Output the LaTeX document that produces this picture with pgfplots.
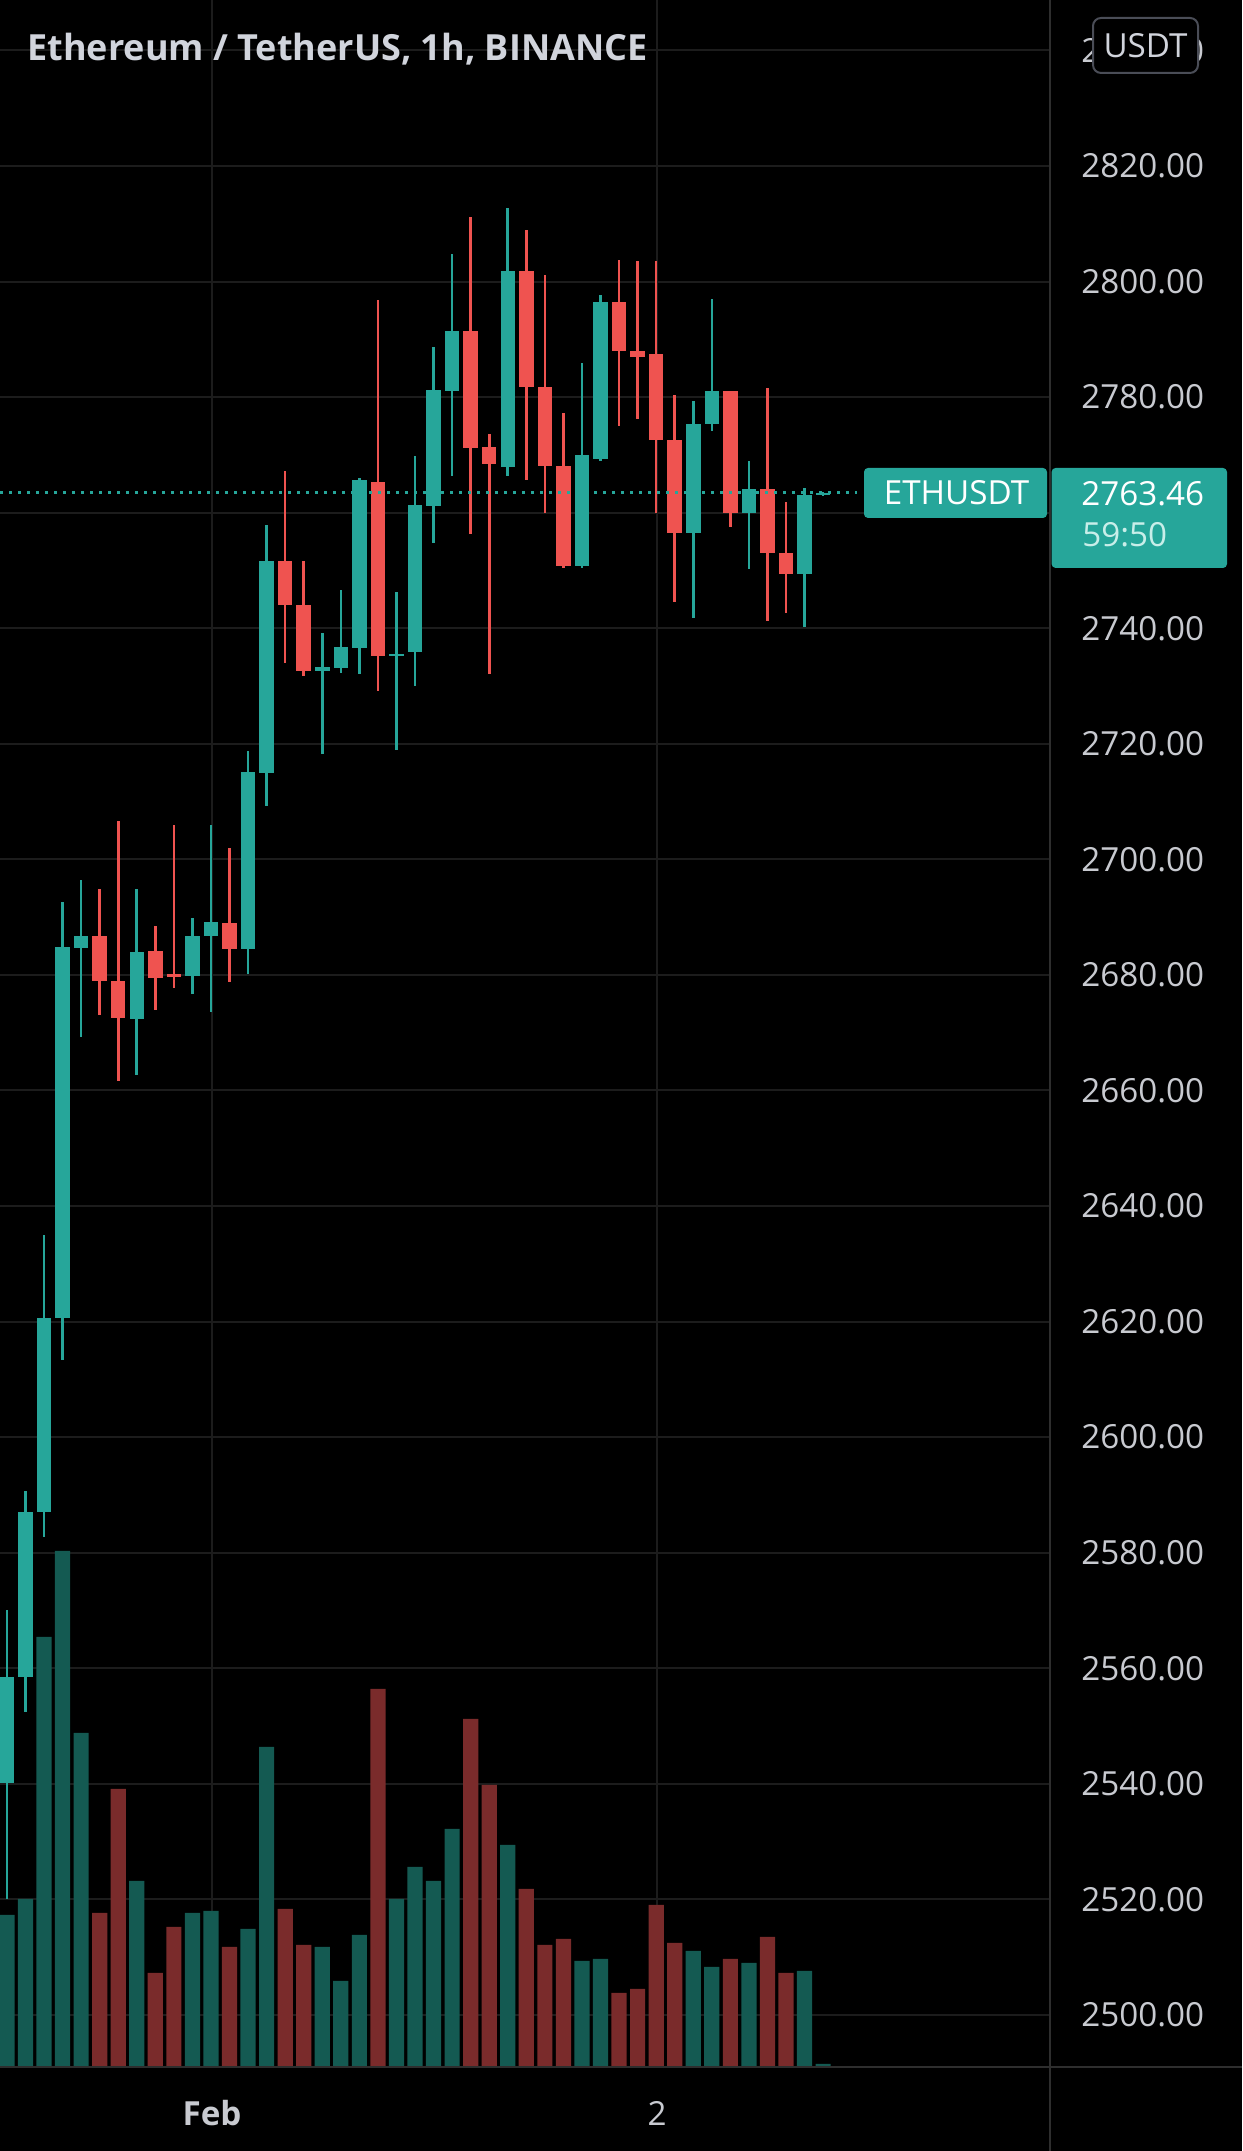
\documentclass[border=0pt]{standalone}
\usepackage{pgfplots}
\pgfplotsset{compat=1.18}
\usepackage{pgfplotstable}
\usepackage{fontspec}
\setmainfont{Open Sans}

\definecolor{up}{HTML}{26A69A}
\definecolor{down}{HTML}{EF5350}
\definecolor{volup}{HTML}{145A52}
\definecolor{voldown}{HTML}{7A2B2B}
\definecolor{gridc}{HTML}{1C1C1C}
\definecolor{axisc}{HTML}{2E2E2E}
\definecolor{txt}{HTML}{D1D4DC}
\definecolor{lbl}{HTML}{C8CAD0}
\definecolor{timer}{HTML}{C8EEE9}
\definecolor{boxline}{HTML}{4A4D57}

% ETHUSDT 1h candles: index, open, high, low, close, volume (arbitrary units)
\pgfplotstableread{
i o h l c v
0 2540.1 2570.1 2520.1 2558.5 7.6
1 2558.5 2590.6 2552.5 2587.1 8.4
2 2587.1 2635.0 2582.8 2620.7 21.5
3 2620.7 2692.7 2613.4 2684.9 25.8
4 2684.6 2696.4 2669.2 2686.8 16.7
5 2686.8 2694.8 2673.1 2679.0 7.7
6 2679.0 2706.6 2661.7 2672.5 13.9
7 2672.4 2694.8 2662.6 2683.9 9.3
8 2684.1 2688.5 2674.0 2679.5 4.7
9 2680.2 2705.9 2677.7 2679.7 7.0
10 2679.8 2689.9 2676.7 2686.8 7.7
11 2686.7 2705.9 2673.6 2689.1 7.8
12 2688.9 2701.9 2678.8 2684.5 6.0
13 2684.5 2718.8 2680.2 2715.1 6.9
14 2714.9 2757.8 2709.2 2751.6 16.0
15 2751.6 2767.2 2734.0 2744.0 7.9
16 2744.0 2751.7 2731.7 2732.6 6.1
17 2732.6 2739.1 2718.2 2733.2 6.0
18 2733.1 2746.6 2732.3 2736.7 4.3
19 2736.5 2766.0 2732.1 2765.7 6.6
20 2765.3 2796.8 2729.1 2735.2 18.9
21 2735.2 2746.3 2719.0 2735.6 8.4
22 2735.8 2769.8 2730.0 2761.3 10.0
23 2761.2 2788.7 2754.8 2781.2 9.3
24 2781.1 2804.8 2766.3 2791.5 11.9
25 2791.5 2811.2 2756.3 2771.1 17.4
26 2771.3 2773.6 2732.1 2768.5 14.1
27 2767.9 2812.8 2766.3 2801.9 11.1
28 2801.9 2808.9 2765.6 2781.8 8.9
29 2781.8 2801.1 2759.9 2768.1 6.1
30 2768.1 2777.2 2750.5 2750.8 6.4
31 2750.8 2785.9 2750.5 2769.9 5.3
32 2769.3 2797.7 2769.0 2796.5 5.4
33 2796.5 2803.8 2775.0 2787.9 3.7
34 2787.9 2803.6 2776.2 2787.0 3.9
35 2787.4 2803.5 2760.0 2772.5 8.1
36 2772.5 2780.3 2744.5 2756.4 6.2
37 2756.4 2779.4 2741.8 2775.3 5.8
38 2775.3 2797.0 2774.2 2781.1 5.0
39 2781.1 2781.1 2757.5 2759.9 5.4
40 2759.9 2769.0 2750.3 2764.1 5.2
41 2764.1 2781.5 2741.2 2753.0 6.5
42 2753.0 2761.9 2742.7 2749.4 4.7
43 2749.4 2764.2 2740.2 2763.0 4.8
44 2763.0 2763.6 2762.9 2763.46 0.15
}\candles

\pgfplotsset{
  pane/.style={
    at={(0pt,42pt)}, anchor=south west, scale only axis,
    width=525pt, height=1033.5pt,
    xmin=-0.372, xmax=56.232,
  },
  price/.style={pane, ymin=2491.0, ymax=2848.73},
  % a candle part is an error bar with no mark: wick h-l, body o-c
  candlepart/.style 2 args={draw=none, mark=none,
    error bars/.cd, y dir=both, y explicit, error mark=none,
    error bar style={line width=#1, draw=#2, solid}},
}
\newcommand{\lblfont}{\fontsize{16.6}{18}\selectfont}

\begin{document}
\begin{tikzpicture}
\fill[black] (0,0) rectangle (621pt,1075.5pt);
\useasboundingbox (0,0) rectangle (621pt,1075.5pt);

% grid and price / time labels
\begin{axis}[price,
  axis line style={draw=none},
  major tick length=0pt,
  scaled y ticks=false,
  xtick={11.06,35.05}, xticklabels={\textbf{Feb},2},
  ytick={2500,2520,...,2840},
  yticklabel pos=right,
  xmajorgrids, ymajorgrids,
  grid style={draw=gridc, line width=1pt},
  tick label style={font=\lblfont, text=lbl, inner sep=0pt},
  xticklabel style={anchor=base, yshift=-29pt},
  yticklabel style={anchor=west, xshift=15.5pt,
    /pgf/number format/.cd, fixed, fixed zerofill, precision=2,
    1000 sep={}, assume math mode=true},
]
\end{axis}

% volume
\begin{axis}[pane, ymin=0, ymax=103.35, hide axis]
\addplot[ybar, bar width=7.6pt, bar shift=0pt, fill=volup, draw=none]
  table[x=i, y expr={\thisrow{c}>=\thisrow{o} ? \thisrow{v} : nan}] {\candles};
\addplot[ybar, bar width=7.6pt, bar shift=0pt, fill=voldown, draw=none]
  table[x=i, y expr={\thisrow{c}<\thisrow{o} ? \thisrow{v} : nan}] {\candles};
\end{axis}

% candles
\begin{axis}[price, hide axis]
% wicks
\addplot[candlepart={1.3pt}{up}]
  table[x=i, y expr={\thisrow{c}>=\thisrow{o} ? 0.5*(\thisrow{h}+\thisrow{l}) : nan},
        y error expr={0.5*(\thisrow{h}-\thisrow{l})}] {\candles};
\addplot[candlepart={1.3pt}{down}]
  table[x=i, y expr={\thisrow{c}<\thisrow{o} ? 0.5*(\thisrow{h}+\thisrow{l}) : nan},
        y error expr={0.5*(\thisrow{h}-\thisrow{l})}] {\candles};
% bodies
\addplot[candlepart={7.25pt}{up}]
  table[x=i, y expr={\thisrow{c}>=\thisrow{o} ? 0.5*(\thisrow{o}+\thisrow{c}) : nan},
        y error expr={0.5*abs(\thisrow{c}-\thisrow{o})}] {\candles};
\addplot[candlepart={7.25pt}{down}]
  table[x=i, y expr={\thisrow{c}<\thisrow{o} ? 0.5*(\thisrow{o}+\thisrow{c}) : nan},
        y error expr={0.5*abs(\thisrow{c}-\thisrow{o})}] {\candles};
% last price line
\addplot[up, line width=1.5pt, dash pattern=on 1.5pt off 3pt]
  coordinates {(-0.372,2763.46) (45.83,2763.46)};
\end{axis}

% pane separators
\draw[axisc, line width=1.35pt] (525pt,0) -- (525pt,1075.5pt);
\draw[axisc, line width=1.35pt] (0,42pt) -- (621pt,42pt);

% title and currency box
\node[anchor=base west, inner sep=0pt, text=txt, font=\fontsize{18}{20}\selectfont\bfseries]
  at (13.5pt,1045pt) {Ethereum / TetherUS, 1h, BINANCE};
\draw[boxline, line width=1pt, fill=black, rounded corners=4pt]
  (546.5pt,1039pt) rectangle (599pt,1066.5pt);
\node[inner sep=0pt, text=txt, font=\lblfont] at (572.75pt,1052.75pt) {USDT};

% last price labels
\fill[up, rounded corners=2pt] (432pt,816.5pt) rectangle (523.5pt,841.5pt);
\node[inner sep=0pt, text=white, font=\lblfont] at (478.25pt,829pt) {ETHUSDT};
\fill[up, rounded corners=2pt] (525.8pt,791.5pt) rectangle (613.5pt,841.5pt);
\node[anchor=west, inner sep=0pt, text=white, font=\lblfont] at (540.5pt,828.75pt) {2763.46};
\node[anchor=west, inner sep=0pt, text=timer, font=\lblfont] at (541pt,808pt) {59:50};
\end{tikzpicture}
\end{document}
